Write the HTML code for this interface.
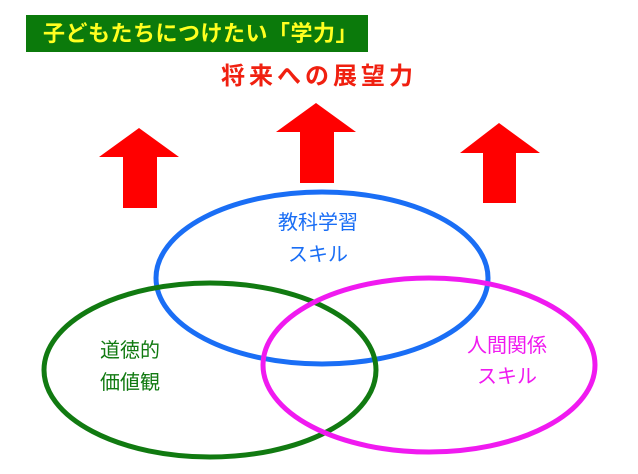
<!DOCTYPE html>
<html><head><meta charset="utf-8"><style>
body{margin:0;width:638px;height:474px;background:#fff;overflow:hidden;position:relative;font-family:"Liberation Sans","Noto Sans CJK JP",sans-serif}
.t{position:absolute;white-space:nowrap}
</style></head><body>
<div style="position:absolute;left:26px;top:15px;width:342px;height:37px;background:#0b7a0b"></div>
<div class="t" style="left:43px;top:19px;font-size:22px;line-height:30px;font-weight:bold;color:#ffff20;letter-spacing:0.5px">子どもたちにつけたい「学力」</div>
<div class="t" style="left:221px;top:62px;font-size:24px;line-height:30px;font-weight:bold;color:#f02010;letter-spacing:4px">将来への展望力</div>
<svg width="638" height="474" style="position:absolute;left:0;top:0">
<g fill="#ff0000">
<polygon points="139,128 99,157 123,157 123,208 157,208 157,157 179,157"/>
<polygon points="316,103 276,132 300,132 300,183 334,183 334,132 356,132"/>
<polygon points="499,123 460,153 483,153 483,203 516,203 516,153 540,153"/>
</g>
<g fill="none" stroke-width="5">
<ellipse cx="322" cy="278" rx="166" ry="86" stroke="#1a6ef5"/>
<ellipse cx="210" cy="370" rx="166" ry="87" stroke="#117a11"/>
<ellipse cx="429" cy="365" rx="166" ry="87" stroke="#f01af0"/>
</g>
</svg>
<div class="t" style="left:268px;top:207px;font-size:20px;color:#1a6ef5;text-align:center;width:100px;line-height:32px">教科学習<br>スキル</div>
<div class="t" style="left:100px;top:335px;font-size:20px;color:#117a11;line-height:32px">道徳的<br>価値観</div>
<div class="t" style="left:457px;top:331px;font-size:20px;color:#f01af0;text-align:center;width:100px;line-height:31px">人間関係<br>スキル</div>
</body></html>
